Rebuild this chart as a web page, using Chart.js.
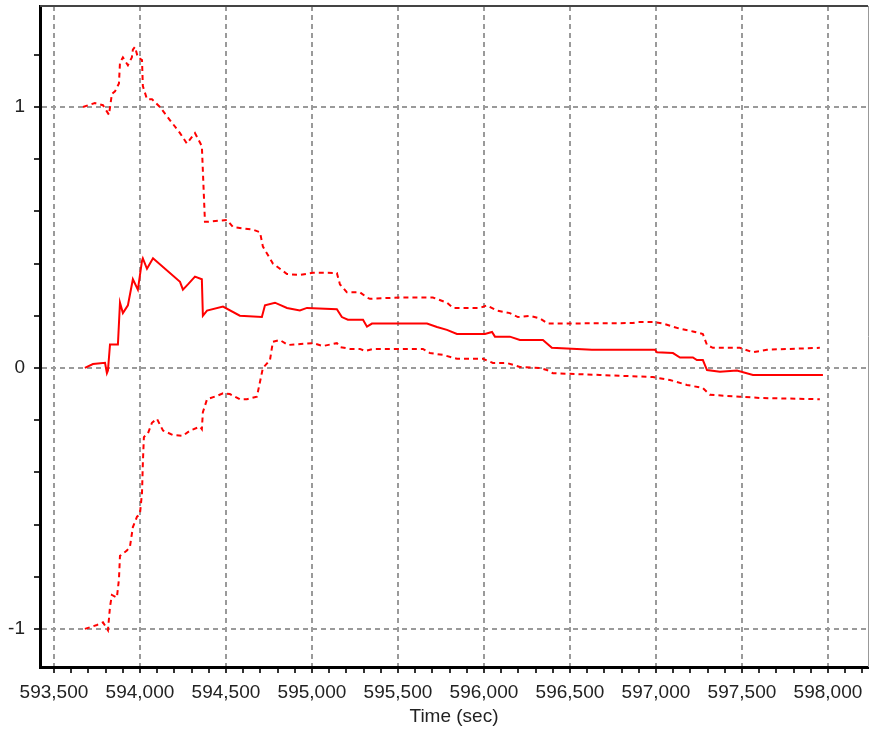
<!DOCTYPE html>
<html>
<head>
<meta charset="utf-8">
<script src="https://cdn.jsdelivr.net/npm/chart.js@4"></script>
<style>
  html, body { margin: 0; padding: 0; background: #fff; }
  #wrap { width: 870px; height: 731px; }
</style>
</head>
<body>
<div id="wrap"><canvas id="chart" width="870" height="731"></canvas></div>
<script>
// time (sec) / value pairs
const midTime = [593680, 593727, 593797, 593808, 593814, 593826, 593872, 593884, 593901, 593930, 593959, 593988, 594012, 594017, 594041, 594076, 594233, 594250, 594279, 594320, 594360, 594366, 594390, 594483, 594581, 594709, 594727, 594785, 594855, 594930, 594971, 595145, 595174, 595209, 595297, 595320, 595349, 595669, 595727, 595785, 595843, 596006, 596047, 596064, 596151, 596209, 596343, 596395, 596628, 596994, 597006, 597099, 597140, 597215, 597238, 597273, 597297, 597372, 597471, 597564, 597971];
const midValue = [0, 0.015, 0.02, -0.02, -0.01, 0.09, 0.09, 0.25, 0.21, 0.24, 0.34, 0.30, 0.41, 0.42, 0.38, 0.42, 0.33, 0.30, 0.32, 0.35, 0.34, 0.20, 0.22, 0.235, 0.20, 0.195, 0.24, 0.25, 0.23, 0.22, 0.23, 0.225, 0.195, 0.185, 0.185, 0.158, 0.17, 0.17, 0.157, 0.146, 0.13, 0.13, 0.138, 0.12, 0.12, 0.107, 0.107, 0.077, 0.07, 0.07, 0.06, 0.057, 0.04, 0.04, 0.03, 0.03, -0.008, -0.015, -0.01, -0.027, -0.027];

const upTime = [593669, 593738, 593785, 593820, 593837, 593855, 593878, 593884, 593901, 593930, 593953, 593959, 593971, 593988, 594012, 594017, 594041, 594070, 594116, 594174, 594233, 594273, 594320, 594360, 594378, 594390, 594506, 594541, 594657, 594698, 594715, 594773, 594855, 594930, 595006, 595145, 595163, 595203, 595279, 595320, 595337, 595512, 595703, 595785, 595820, 595977, 596017, 596076, 596151, 596198, 596267, 596326, 596372, 596866, 596895, 596983, 597041, 597140, 597215, 597273, 597297, 597331, 597488, 597564, 597645, 597953];
const upValue = [1.0, 1.015, 1.007, 0.97, 1.05, 1.06, 1.09, 1.17, 1.19, 1.16, 1.19, 1.22, 1.23, 1.19, 1.18, 1.08, 1.03, 1.03, 1.0, 0.95, 0.90, 0.86, 0.90, 0.85, 0.56, 0.56, 0.567, 0.54, 0.53, 0.52, 0.465, 0.40, 0.36, 0.356, 0.365, 0.364, 0.32, 0.29, 0.29, 0.27, 0.265, 0.27, 0.27, 0.25, 0.23, 0.23, 0.24, 0.22, 0.21, 0.195, 0.20, 0.19, 0.17, 0.172, 0.176, 0.176, 0.17, 0.15, 0.14, 0.13, 0.088, 0.077, 0.077, 0.06, 0.07, 0.077];

const lowTime = [593680, 593750, 593785, 593814, 593826, 593837, 593866, 593878, 593884, 593924, 593942, 593959, 593983, 594000, 594012, 594017, 594023, 594047, 594070, 594099, 594134, 594192, 594250, 594291, 594349, 594360, 594366, 594390, 594448, 594483, 594523, 594581, 594622, 594680, 594715, 594756, 594773, 594814, 594860, 595006, 595064, 595145, 595163, 595221, 595279, 595308, 595355, 595645, 595686, 595762, 595843, 595994, 596052, 596134, 596209, 596326, 596366, 596401, 596674, 596983, 597081, 597180, 597273, 597314, 597488, 597605, 597953];
const lowValue = [-1.0, -0.985, -0.975, -1.005, -0.915, -0.87, -0.88, -0.81, -0.72, -0.70, -0.685, -0.61, -0.57, -0.56, -0.48, -0.365, -0.265, -0.25, -0.21, -0.195, -0.24, -0.257, -0.26, -0.24, -0.225, -0.235, -0.17, -0.12, -0.107, -0.097, -0.10, -0.12, -0.12, -0.11, 0.0, 0.03, 0.10, 0.107, 0.088, 0.095, 0.084, 0.095, 0.08, 0.073, 0.073, 0.065, 0.073, 0.073, 0.057, 0.05, 0.035, 0.035, 0.019, 0.019, 0.004, 0.0, -0.008, -0.02, -0.027, -0.035, -0.046, -0.065, -0.077, -0.103, -0.11, -0.115, -0.12];

const xMin = 593419, xMax = 598233;
const yMin = -1.146, yMax = 1.387;

const toPoints = (xs, ys) => xs.map((x, i) => ({ x: x, y: ys[i] }));
const isMultiple = (v, step) => Math.abs(v / step - Math.round(v / step)) < 1e-6;

const tickFont = { family: '"Liberation Sans", Arial, sans-serif', size: 19 };

// top and right frame lines around the plot
const frame = {
    id: 'frame',
    afterDraw(chart) {
        const { ctx, chartArea: a } = chart;
        ctx.save();
        ctx.lineWidth = 2;
        ctx.strokeStyle = '#444';
        ctx.beginPath();
        ctx.moveTo(a.left, a.top);
        ctx.lineTo(a.right, a.top);
        ctx.stroke();
        ctx.lineWidth = 1;
        ctx.strokeStyle = '#999';
        ctx.beginPath();
        ctx.moveTo(a.right + 0.5, a.top);
        ctx.lineTo(a.right + 0.5, a.bottom);
        ctx.stroke();
        ctx.restore();
    }
};

new Chart(document.getElementById('chart').getContext('2d'), {
    type: 'line',
    data: {
        datasets: [
            { data: toPoints(upTime, upValue), borderColor: '#ff0000', borderWidth: 2, borderDash: [5, 4] },
            { data: toPoints(midTime, midValue), borderColor: '#ff0000', borderWidth: 2 },
            { data: toPoints(lowTime, lowValue), borderColor: '#ff0000', borderWidth: 2, borderDash: [5, 4] }
        ]
    },
    options: {
        responsive: false,
        animation: false,
        events: [],
        layout: { padding: { left: 0, top: 6, right: 2, bottom: 0 } },
        elements: { point: { radius: 0 }, line: { tension: 0, fill: false } },
        plugins: { legend: { display: false }, tooltip: { enabled: false } },
        scales: {
            x: {
                type: 'linear',
                min: xMin,
                max: xMax,
                afterFit: (scale) => {
                    scale.height = 64;
                    scale.paddingLeft = 0;
                    scale.paddingRight = 0;
                },
                afterBuildTicks: (scale) => {
                    const t = [];
                    for (let v = 593500; v <= xMax; v += 100) t.push({ value: v });
                    scale.ticks = t;
                },
                ticks: {
                    autoSkip: false,
                    maxRotation: 0,
                    padding: 8,
                    color: '#222',
                    font: tickFont,
                    callback: (v) => isMultiple(v, 500) ? v.toLocaleString('en-US') : ''
                },
                grid: {
                    color: (c) => c.tick && isMultiple(c.tick.value, 500) ? '#9a9a9a' : 'transparent',
                    tickColor: '#333',
                    tickLength: 6,
                    lineWidth: 2
                },
                border: { color: '#000', width: 3, dash: [5, 4] },
                title: {
                    display: true,
                    text: 'Time (sec)',
                    color: '#222',
                    font: tickFont,
                    padding: { top: 0, bottom: 3 }
                }
            },
            y: {
                type: 'linear',
                min: yMin,
                max: yMax,
                afterFit: (scale) => {
                    scale.width = 40;
                    scale.paddingTop = 0;
                    scale.paddingBottom = 0;
                },
                afterBuildTicks: (scale) => {
                    const t = [];
                    for (let k = -5; k <= 6; k++) t.push({ value: k * 0.2 });
                    scale.ticks = t;
                },
                ticks: {
                    autoSkip: false,
                    padding: 9,
                    color: '#222',
                    font: tickFont,
                    callback: (v) => isMultiple(v, 1) ? String(Math.round(v)) : ''
                },
                grid: {
                    color: (c) => c.tick && isMultiple(c.tick.value, 1) ? '#9a9a9a' : 'transparent',
                    tickColor: '#333',
                    tickLength: 6,
                    lineWidth: 2
                },
                border: { color: '#000', width: 3, dash: [5, 4] }
            }
        }
    },
    plugins: [frame]
});
</script>
</body>
</html>
